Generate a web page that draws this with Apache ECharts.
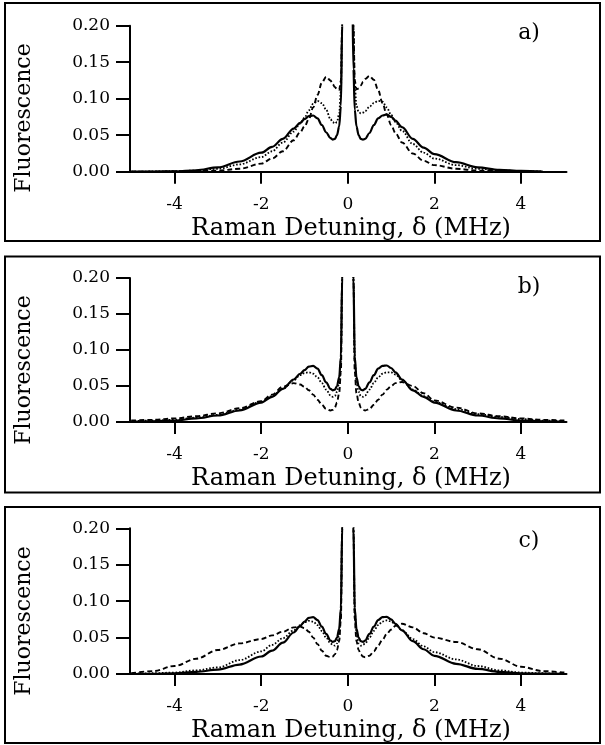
<!DOCTYPE html>
<html>
<head>
<meta charset="utf-8">
<script src="https://cdn.jsdelivr.net/npm/echarts@6/dist/echarts.min.js"></script>
<style>
html,body{margin:0;padding:0;background:#fff;}
#c{width:605px;height:745px;}
</style>
</head>
<body>
<div id="c"></div>
<script>
// Raman detuning (MHz)
var detuning = [-5,-4.5,-4,-3.5,-3,-2.5,-2,-1.75,-1.5,-1.25,-1.1,-1.0,-0.9,-0.8,-0.7,-0.6,-0.5,-0.4,-0.35,-0.3,-0.25,-0.2,-0.16,-0.13,-0.1,0,
                0.1,0.13,0.16,0.2,0.25,0.3,0.35,0.4,0.5,0.6,0.7,0.8,0.9,1.0,1.1,1.25,1.5,1.75,2,2.5,3,3.5,4,4.5,5];

// Panel a
var aSolid = [0,0.0002,0.0006,0.002,0.006,0.014,0.026,0.034,0.045,0.059,0.067,0.072,0.076,0.077,0.073,0.064,0.054,0.046,0.044,0.045,0.05,0.062,0.09,0.2,0.3,1.5,
              0.26,0.14,0.085,0.062,0.05,0.045,0.044,0.045,0.053,0.064,0.073,0.077,0.0785,0.075,0.07,0.061,0.045,0.033,0.024,0.013,0.006,0.0025,0.001,0.0003,null];
var aDotted = [0,0.0003,0.0008,0.0015,0.004,0.010,0.020,0.028,0.040,0.055,0.066,0.074,0.084,0.093,0.097,0.094,0.085,0.072,0.068,0.066,0.068,0.08,0.11,0.2,0.3,1.5,
               0.3,0.2,0.12,0.09,0.082,0.08,0.081,0.083,0.089,0.094,0.097,0.096,0.088,0.078,0.068,0.056,0.038,0.026,0.018,0.009,0.004,0.0018,0.0008,0.0003,null];
var aDashed = [0,0,0.0003,0.0008,0.0015,0.004,0.011,0.018,0.028,0.043,0.054,0.062,0.072,0.088,0.105,0.122,0.13,0.125,0.12,0.116,0.113,0.112,0.125,0.2,0.3,1.5,
               0.3,0.2,0.125,0.113,0.114,0.118,0.123,0.127,0.131,0.126,0.112,0.094,0.078,0.064,0.053,0.040,0.025,0.015,0.009,0.004,0.0015,0.0008,0.0003,0,null];

// Panel b
var bSolid = [0.0005,0.001,0.002,0.005,0.009,0.016,0.027,0.035,0.046,0.059,0.067,0.072,0.077,0.078,0.074,0.065,0.055,0.046,0.044,0.045,0.05,0.062,0.09,0.2,0.3,1.5,
              0.3,0.2,0.09,0.062,0.05,0.045,0.044,0.046,0.055,0.065,0.074,0.078,0.0785,0.075,0.069,0.059,0.044,0.035,0.027,0.016,0.009,0.005,0.002,0.001,0.0005];
var bDotted = [0.001,0.002,0.003,0.006,0.010,0.017,0.028,0.036,0.046,0.058,0.065,0.068,0.069,0.067,0.062,0.054,0.045,0.037,0.035,0.036,0.042,0.055,0.085,0.2,0.3,1.5,
               0.3,0.2,0.085,0.055,0.042,0.036,0.035,0.037,0.045,0.054,0.062,0.067,0.069,0.069,0.066,0.058,0.045,0.036,0.028,0.018,0.011,0.007,0.004,0.002,0.001];
var bDashed = [0.002,0.003,0.005,0.008,0.012,0.019,0.029,0.038,0.049,0.054,0.052,0.049,0.044,0.038,0.031,0.024,0.018,0.016,0.017,0.02,0.027,0.04,0.07,0.2,0.3,1.5,
               0.3,0.2,0.07,0.04,0.027,0.02,0.017,0.016,0.018,0.024,0.031,0.038,0.045,0.050,0.054,0.0555,0.050,0.040,0.030,0.020,0.012,0.008,0.005,0.003,0.002];

// Panel c
var cSolid = [0,0.0003,0.001,0.003,0.006,0.013,0.024,0.032,0.043,0.057,0.066,0.072,0.077,0.078,0.074,0.065,0.055,0.046,0.044,0.045,0.05,0.062,0.09,0.2,0.3,1.5,
              0.3,0.2,0.09,0.062,0.05,0.045,0.044,0.046,0.055,0.065,0.074,0.078,0.0785,0.075,0.069,0.06,0.045,0.034,0.025,0.014,0.007,0.003,0.001,0.0004,0.0001];
var cDotted = [0.0005,0.001,0.002,0.005,0.009,0.019,0.031,0.040,0.049,0.060,0.067,0.071,0.073,0.072,0.067,0.059,0.050,0.042,0.040,0.039,0.042,0.055,0.085,0.2,0.3,1.5,
               0.3,0.2,0.085,0.055,0.042,0.039,0.040,0.042,0.050,0.059,0.067,0.072,0.0735,0.072,0.068,0.060,0.048,0.038,0.030,0.020,0.011,0.005,0.002,0.001,0.0005];
var cDashed = [0.001,0.004,0.011,0.021,0.033,0.042,0.048,0.053,0.058,0.064,0.065,0.063,0.058,0.050,0.041,0.032,0.025,0.023,0.024,0.027,0.033,0.045,0.075,0.2,0.3,1.5,
               0.3,0.2,0.075,0.045,0.033,0.027,0.024,0.023,0.025,0.031,0.039,0.047,0.055,0.061,0.066,0.069,0.064,0.056,0.050,0.044,0.034,0.021,0.010,0.004,0.002];

var yTicks = [0, 0.05, 0.10, 0.15, 0.20];
var xTicks = [-4, -2, 0, 2, 4];
var panelLabels = ['a)', 'b)', 'c)'];
var xTitle = 'Raman Detuning, \u03b4 (MHz)';
var yTitle = 'Fluorescence';

var FONT = '"DejaVu Serif", serif';

// layout (pixel positions measured from reference)
var panels = [
  {top: 25.7, height: 146, box: [5, 3, 595, 238], labelY: 33, titleY: 228.5, yTitleY: 118},
  {top: 278, height: 144, box: [5, 256.5, 595, 236], labelY: 287, titleY: 479, yTitleY: 370},
  {top: 528.3, height: 145.7, box: [5, 507, 595, 236], labelY: 541, titleY: 731, yTitleY: 621}
];
var seriesSets = [[aSolid, aDotted, aDashed],[bSolid, bDotted, bDashed],[cSolid, cDotted, cDashed]];
var lineStyles = [
  {type: 'solid', width: 2.2},
  {type: [1.6, 1.8], width: 1.8},
  {type: [5, 3], width: 1.9}
];

function pairs(vals) {
  var out = [];
  for (var i = 0; i < detuning.length; i++) {
    if (vals[i] !== null && vals[i] !== undefined) out.push([detuning[i], vals[i]]);
  }
  return out;
}

var grids = [], xAxes = [], yAxes = [], series = [], graphics = [];
panels.forEach(function (p, k) {
  grids.push({left: 130, width: 436.5, top: p.top, height: p.height, containLabel: false});
  xAxes.push({
    type: 'value', gridIndex: k, min: -5.03, max: 5.05,
    axisLine: {onZero: false, lineStyle: {color: '#000', width: 2}},
    axisTick: {show: true, customValues: xTicks, length: 12, lineStyle: {color: '#000', width: 2}},
    axisLabel: {customValues: xTicks, margin: 24, color: '#000', fontFamily: FONT, fontSize: 17},
    splitLine: {show: false}
  });
  yAxes.push({
    type: 'value', gridIndex: k, min: 0, max: 0.2, interval: 0.05,
    axisLine: {show: true, onZero: false, lineStyle: {color: '#000', width: 2}},
    axisTick: {show: true, length: 14, lineStyle: {color: '#000', width: 2}},
    axisLabel: {margin: 20, color: '#000', fontFamily: FONT, fontSize: 17,
      formatter: function (v) { return v.toFixed(2); }},
    splitLine: {show: false}
  });
  seriesSets[k].forEach(function (vals, j) {
    series.push({
      type: 'line', xAxisIndex: k, yAxisIndex: k, data: pairs(vals),
      showSymbol: false, symbol: 'none', smooth: 0.35, smoothMonotone: 'x', clip: true,
      lineStyle: {color: '#000', width: lineStyles[j].width, type: lineStyles[j].type},
      z: 3 - j, silent: true, animation: false
    });
  });
  graphics.push({type: 'rect', shape: {x: p.box[0], y: p.box[1], width: p.box[2], height: p.box[3]},
    style: {fill: 'none', stroke: '#000', lineWidth: 2}, silent: true});
  graphics.push({type: 'text', x: 529, y: p.labelY,
    style: {text: panelLabels[k], fill: '#000', font: '22px ' + FONT, align: 'center', verticalAlign: 'middle', textAlign: 'center', textVerticalAlign: 'middle'}});
  graphics.push({type: 'text', x: 351, y: p.titleY,
    style: {text: xTitle, fill: '#000', font: '24px ' + FONT, align: 'center', verticalAlign: 'middle', textAlign: 'center', textVerticalAlign: 'middle'}});
  graphics.push({type: 'text', x: 24, y: p.yTitleY, rotation: Math.PI / 2,
    style: {text: yTitle, fill: '#000', font: '22px ' + FONT, align: 'center', verticalAlign: 'middle', textAlign: 'center', textVerticalAlign: 'middle'}});
});

var chart = echarts.init(document.getElementById('c'), null, {renderer: 'canvas'});
chart.setOption({
  animation: false,
  backgroundColor: '#fff',
  grid: grids, xAxis: xAxes, yAxis: yAxes, series: series,
  graphic: graphics
});
</script>
</body>
</html>
